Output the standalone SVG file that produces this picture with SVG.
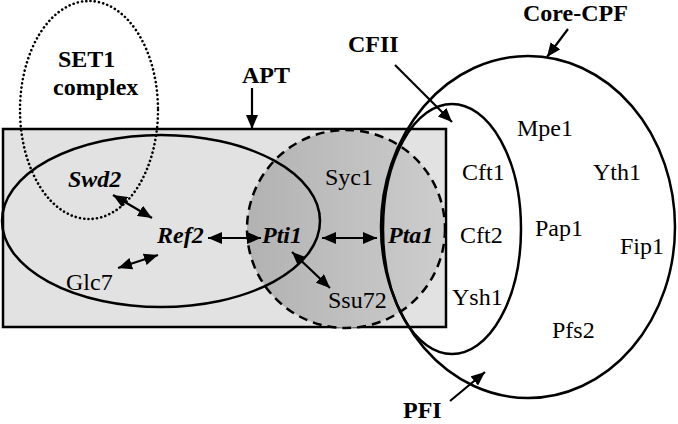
<svg xmlns="http://www.w3.org/2000/svg" width="678" height="424" viewBox="0 0 678 424">
<defs>
<linearGradient id="g" x1="0" y1="0" x2="1" y2="0">
<stop offset="0" stop-color="#b2b2b2"/>
<stop offset="1" stop-color="#cdcdcd"/>
</linearGradient>
<marker id="ah" viewBox="0 0 14 12" refX="14" refY="6" markerWidth="14" markerHeight="12" markerUnits="userSpaceOnUse" orient="auto-start-reverse">
<path d="M0,0 L14,6 L0,12 Z" fill="#000"/>
</marker>
<style>
.ln{fill:none;stroke:#000;stroke-width:2.5}
.b{font-family:"Liberation Serif","Times New Roman",serif;font-size:24px;font-weight:bold;fill:#000}
.bi{font-family:"Liberation Serif","Times New Roman",serif;font-size:24px;font-weight:bold;font-style:italic;fill:#000}
.r{font-family:"Liberation Serif","Times New Roman",serif;font-size:24px;fill:#000}
.ar{stroke:#000;stroke-width:2.2;fill:none}
</style>
</defs>
<rect width="678" height="424" fill="#fff"/>
<g id="APT">
<rect x="3" y="129" width="443" height="198" fill="#e2e2e2" stroke="#000" stroke-width="2.5"/>
<text class="b" x="242" y="83">APT</text>
</g>
<g id="Pti1-region">
<circle cx="346" cy="229" r="99" fill="url(#g)" stroke="#000" stroke-width="2.5" stroke-dasharray="9 6"/>
</g>
<g id="Ref2-complex">
<ellipse class="ln" cx="161" cy="221" rx="159" ry="86"/>
</g>
<g id="SET1">
<ellipse cx="89" cy="110" rx="69" ry="109" fill="none" stroke="#000" stroke-width="2.6" stroke-dasharray="0.1 4.2" stroke-linecap="round"/>
<text class="b" x="58" y="67">SET1</text>
<text class="b" x="53" y="95">complex</text>
</g>
<g id="CFII">
<ellipse class="ln" cx="452" cy="229" rx="69" ry="125"/>
<text class="b" x="348" y="52">CFII</text>
</g>
<g id="Core-CPF">
<ellipse class="ln" cx="528" cy="227" rx="147" ry="171"/>
<text class="b" x="523" y="21">Core-CPF</text>
</g>
<g id="PFI">
<text class="b" x="403" y="418">PFI</text>
</g>
<g id="proteins">
<g id="Swd2"><text class="bi" x="68" y="187">Swd2</text></g>
<g id="Ref2"><text class="bi" x="157" y="243">Ref2</text></g>
<g id="Pti1"><text class="bi" x="262" y="243">Pti1</text></g>
<g id="Pta1"><text class="bi" x="388" y="243">Pta1</text></g>
<g id="Glc7"><text class="r" x="66" y="290">Glc7</text></g>
<g id="Ssu72"><text class="r" x="328" y="308">Ssu72</text></g>
<g id="Syc1"><text class="r" x="325" y="185">Syc1</text></g>
<g id="Cft1"><text class="r" x="462" y="180">Cft1</text></g>
<g id="Cft2"><text class="r" x="460" y="243">Cft2</text></g>
<g id="Ysh1"><text class="r" x="452" y="305">Ysh1</text></g>
<g id="Mpe1"><text class="r" x="517" y="136">Mpe1</text></g>
<g id="Yth1"><text class="r" x="593" y="180">Yth1</text></g>
<g id="Pap1"><text class="r" x="535" y="236">Pap1</text></g>
<g id="Fip1"><text class="r" x="620" y="254">Fip1</text></g>
<g id="Pfs2"><text class="r" x="552" y="338">Pfs2</text></g>
</g>
<g id="connectors">
<line class="ar" x1="252" y1="88" x2="252" y2="129" marker-end="url(#ah)"/>
<line class="ar" x1="395" y1="65" x2="452" y2="122" marker-end="url(#ah)"/>
<line class="ar" x1="568" y1="29" x2="547" y2="57" marker-end="url(#ah)"/>
<line class="ar" x1="450" y1="401" x2="485" y2="372" marker-end="url(#ah)"/>
<line class="ar" x1="113" y1="195" x2="152" y2="218" marker-start="url(#ah)" marker-end="url(#ah)"/>
<line class="ar" x1="118" y1="268" x2="158" y2="255" marker-start="url(#ah)" marker-end="url(#ah)"/>
<line class="ar" x1="208" y1="238" x2="261" y2="238" marker-start="url(#ah)" marker-end="url(#ah)"/>
<line class="ar" x1="322" y1="238" x2="377" y2="238" marker-start="url(#ah)" marker-end="url(#ah)"/>
<line class="ar" x1="292" y1="252" x2="330" y2="288" marker-start="url(#ah)" marker-end="url(#ah)"/>
</g>
</svg>
